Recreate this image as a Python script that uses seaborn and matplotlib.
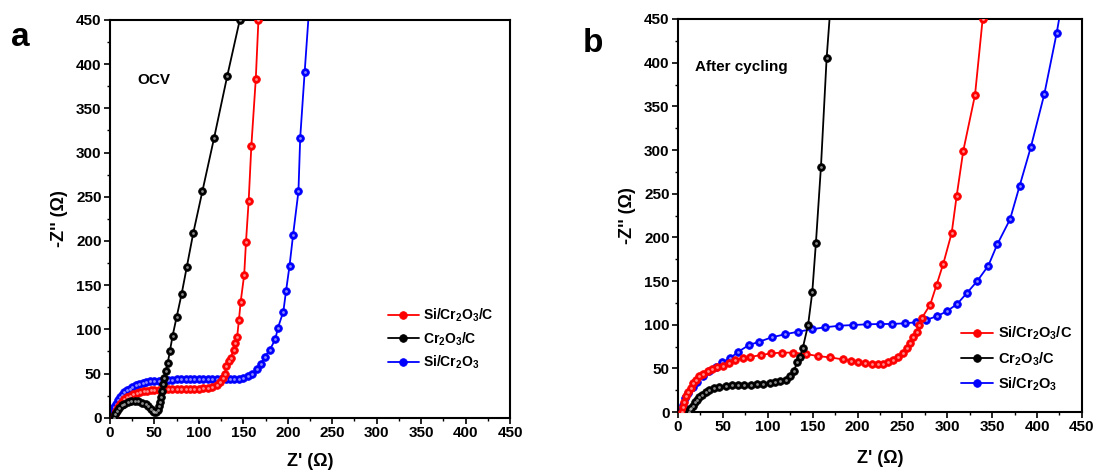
import matplotlib
matplotlib.use("Agg")
import matplotlib.pyplot as plt
import seaborn as sns
import pandas as pd

# ---------------- data ----------------
# Panel a: OCV
a_red_x = [5, 6, 7, 9, 11, 13, 16, 19, 22, 26, 30, 34, 38, 42, 46, 50, 55, 60, 65, 70, 75, 80, 85, 90, 95,
           100, 105, 110, 115, 120, 124, 127, 129, 131, 134, 136, 139, 141, 143, 145, 147, 151, 153, 156,
           159, 164, 167, 168.5]
a_red_y = [0, 4, 8, 12, 15, 18, 21, 23, 25, 27, 28, 29, 30, 30, 31, 31, 31, 31.5, 32, 32, 32, 32, 32.5, 33, 33,
           33, 34, 34, 35, 37, 40, 45, 50, 58, 64, 68, 77, 84, 91, 110, 131, 162, 199, 245,
           307, 383, 450, 470]

a_black_x = [5, 6, 8, 10, 13, 16, 20, 24, 28, 32, 36, 40, 43, 46, 48, 50, 52, 54, 55, 56, 57, 58, 60, 61,
             63, 65, 67.5, 70.5, 75, 80.6, 86.3, 93.7, 104, 117, 132, 146, 149]
a_black_y = [0, 4, 8, 11, 14, 16, 18, 19, 19, 18.5, 17, 15, 13, 10, 8, 6, 6, 9, 13, 18, 24, 30, 38, 45,
             53, 62, 76, 93, 114, 140, 170, 209, 256.5, 316, 387, 450, 470]

a_blue_x = [2, 3, 4, 5, 7, 9, 11, 13, 16, 19, 22, 25, 29, 33, 37, 41, 45, 50, 55, 60, 65, 70, 75, 80, 85,
            90, 95, 100, 105, 110, 115, 120, 125, 130, 135, 140, 145, 150, 155, 160, 165, 170, 174, 180,
            186, 189, 195, 198, 202, 206, 212, 214, 219, 224.5]
a_blue_y = [0, 4, 8, 12, 16, 20, 23, 26, 29, 31, 33, 35, 37, 38, 39, 40, 41, 42, 42, 43, 43, 43, 43.5, 44, 44,
            44, 44, 44, 44, 44, 44, 44, 44, 44, 44, 44, 44, 45, 47, 50, 55, 61, 69, 77,
            89, 102, 120, 143, 172, 207, 256, 317, 391, 470]

# Panel b: after cycling
b_red_x = [5, 5.5, 7, 9, 11, 14, 17, 20, 24, 28, 33, 38, 44, 50, 57, 64, 72, 80, 93, 104, 115.5, 128,
           143, 156, 169, 183.5, 192.4, 200.9, 208.3, 215.8, 223.2, 228.7, 234.3, 239.9, 245.5, 250.3,
           254.8, 258.4, 262.1, 265.9, 268.8, 271.5, 281, 288.2, 295.6, 304.9, 310.4, 317.8, 330.9, 339.4]
b_red_y = [0, 6, 12, 18, 23, 28, 33, 37, 41, 44, 47, 49, 51, 53, 56, 59, 62, 63, 65.3, 67.2, 68, 68,
           66.4, 64, 62.6, 60.3, 58.7, 56.9, 55.7, 54.6, 54.6, 55, 56.9, 59.5, 62.6, 67.2,
           72.9, 79.4, 86.2, 92, 99.6, 107.3, 123, 146, 170, 205, 247, 299, 363, 450]

b_black_x = [12, 13, 14.5, 16.5, 19, 21, 24, 27, 31, 35, 40, 46, 53, 60, 67, 74, 81, 88, 95, 102, 108, 114,
             120, 125, 129, 133, 136, 139, 145, 149.6, 153.7, 159.3, 165.6, 171]
b_black_y = [0, 3, 5, 7, 11, 14, 17, 20, 23, 25, 27, 29, 30, 31, 31, 31, 31, 32, 32, 33, 34, 35,
             37, 41, 47, 57, 63, 73, 100, 137, 194, 281, 405, 480]

b_blue_x = [3, 4.1, 5.5, 7.8, 11.5, 16.4, 21.5, 28.2, 34.9, 42, 49.4, 57.9, 67.2, 79.1, 90.6, 104.4, 119.2,
            134, 148.9, 163.8, 179.7, 195.3, 210.2, 225, 238.7, 252.9, 265.1, 276.3, 288.9, 299.3, 311,
            321.6, 333.4, 345.7, 355.7, 369.9, 380.6, 393.2, 408.1, 421.8, 428]
b_blue_y = [0, 2.3, 8, 15.6, 21.4, 28.3, 34.7, 41.2, 47, 51.9, 56.9, 61.5, 69, 76.7, 80.5, 85.5, 89,
            92, 94.7, 97, 98.8, 99.6, 100.4, 100.8, 100.8, 101.6, 102.7, 105.3, 109.9, 115.2, 123.7,
            135.9, 150, 167.5, 192, 220.6, 259, 303.8, 364, 433.6, 470]

series_labels = [r"Si/Cr$_2$O$_3$/C", r"Cr$_2$O$_3$/C", r"Si/Cr$_2$O$_3$"]
series_colors = ["#FF0000", "#000000", "#0000FF"]
panel_letters = ["a", "b"]
panel_notes = ["OCV", "After cycling"]
ticks = [0, 50, 100, 150, 200, 250, 300, 350, 400, 450]

# ---------------- style ----------------
sns.set_style("ticks")
plt.rcParams["font.family"] = ["Liberation Sans", "DejaVu Sans"]
plt.rcParams["font.weight"] = "bold"
plt.rcParams["mathtext.fontset"] = "custom"
plt.rcParams["mathtext.rm"] = "Liberation Sans:bold"
plt.rcParams["mathtext.it"] = "Liberation Sans:bold"
plt.rcParams["mathtext.bf"] = "Liberation Sans:bold"
plt.rcParams["mathtext.default"] = "bf"
for key in ["text.color", "axes.labelcolor", "xtick.color", "ytick.color", "axes.edgecolor"]:
    plt.rcParams[key] = "black"

fig = plt.figure(figsize=(11.02, 4.75), dpi=100)
ax_a = fig.add_axes([0.0998, 0.1206, 0.3630, 0.8373])
ax_b = fig.add_axes([0.6152, 0.1326, 0.3666, 0.8274])

panels = [
    (ax_a, [(a_red_x, a_red_y), (a_black_x, a_black_y), (a_blue_x, a_blue_y)]),
    (ax_b, [(b_red_x, b_red_y), (b_black_x, b_black_y), (b_blue_x, b_blue_y)]),
]
zorders = [3, 4, 2]
legend_anchor = [(0.99, 0.085), (1.008, 0.015)]
legend_size = [10, 10.5]
legend_spacing = [0.45, 0.55]
xlabel_pad = [9, 11]

for i, (ax, data) in enumerate(panels):
    for (xs, ys), lab, col, z in zip(data, series_labels, series_colors, zorders):
        df = pd.DataFrame({"x": xs, "y": ys})
        sns.lineplot(data=df, x="x", y="y", sort=False, estimator=None, ax=ax,
                     color=col, lw=1.3, marker="o", markersize=5.5,
                     markeredgecolor=col, markeredgewidth=0.6, label=lab, zorder=z,
                     clip_on=True)
        ax.plot(xs, ys, ls="none", marker="o", markersize=2.0, color="white",
                alpha=0.55, markeredgewidth=0, zorder=z + 0.1)
    ax.set_xlim(0, 450)
    ax.set_ylim(0, 450)
    ax.set_xticks(ticks)
    ax.set_yticks(ticks)
    ax.set_xticks(range(25, 450, 50), minor=True)
    ax.set_yticks(range(25, 450, 50), minor=True)
    ax.tick_params(axis="both", which="major", direction="out", length=4, width=1.2,
                   labelsize=11, pad=2, colors="black")
    ax.tick_params(axis="both", which="minor", direction="out", length=2.5, width=1.0, colors="black")
    ax.tick_params(top=False, right=False)
    for lbl in ax.get_xticklabels() + ax.get_yticklabels():
        lbl.set_fontweight("bold")
    for sp in ax.spines.values():
        sp.set_linewidth(1.5)
        sp.set_color("black")
        sp.set_visible(True)
    ax.set_xlabel("Z' (\u03a9)", fontsize=13, fontweight="bold", labelpad=xlabel_pad[i])
    ax.set_ylabel("-Z'' (\u03a9)", fontsize=13, fontweight="bold", labelpad=6)

    handles, labels = ax.get_legend_handles_labels()
    leg = ax.legend(handles, labels, frameon=False,
                    prop={"weight": "bold", "size": legend_size[i]},
                    handlelength=2.2, handletextpad=0.3, labelspacing=legend_spacing[i],
                    loc="lower right", bbox_to_anchor=legend_anchor[i])

ax_a.text(31, 382, panel_notes[0], fontsize=11, fontweight="bold", va="center")
ax_b.text(19, 395, panel_notes[1], fontsize=11, fontweight="bold", va="center")
fig.text(20 / 1102, 1 - 37 / 475, panel_letters[0], fontsize=24, fontweight="bold", va="center", ha="center")
fig.text(593 / 1102, 1 - 43 / 475, panel_letters[1], fontsize=24, fontweight="bold", va="center", ha="center")

fig.savefig("out.png", dpi=100)
